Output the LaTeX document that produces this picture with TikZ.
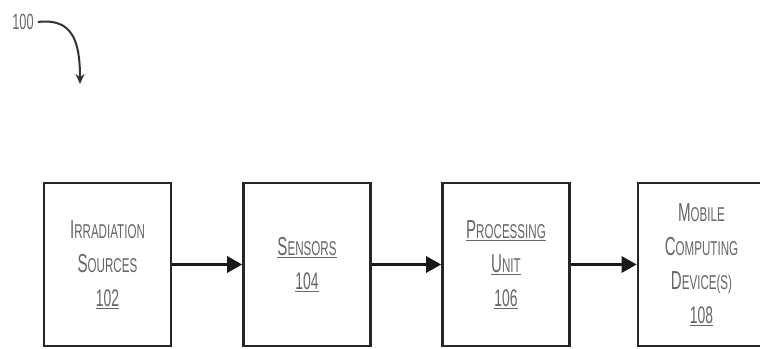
\documentclass[tikz,border=0pt]{standalone}
\usepackage{fontspec}
\setmainfont{Liberation Sans}
\usepackage{graphicx}
\usetikzlibrary{arrows.meta}
\newcommand\nar[1]{\scalebox{0.58}[1]{#1}}
\newcommand\SCw[2]{{\fontsize{26}{26}\selectfont #1}{\fontsize{20}{20}\selectfont #2}}
\newcommand\num[1]{{\fontsize{24}{24}\selectfont #1}}
\tikzset{
  blk/.style={draw=black!85, line width=2.6pt, minimum width=127pt, minimum height=163pt,
    inner sep=0pt, align=center, text=black!60, font=\fontsize{20}{34}\selectfont},
  flow/.style={line width=3pt, draw=black!90, -{Triangle[length=15pt,width=16pt]}},
  refarr/.style={line width=2pt, draw=black!80, -{Stealth[length=10pt,width=9pt]}}
}
\begin{document}
\begin{tikzpicture}[x=1pt,y=-1pt]
\useasboundingbox (0,0) rectangle (760,348);
\clip (0,0) rectangle (760,348);
\fill[white] (0,0) rectangle (760,348);
\node[text=black!60, inner sep=0pt] (lbl) at (23,22) {\nar{\fontsize{22}{22}\selectfont 100}};
\coordinate (tip) at (80,84);
\draw[refarr] (lbl.east) ++(4pt,0) .. controls (72,18) and (80,40) .. (tip);
\node[blk] (b1) at (107.5,264.5) {\nar{\SCw{I}{RRADIATION}}\\ \nar{\SCw{S}{OURCES}}\\ \nar{\num{\underline{102}}}};
\node[blk] (b2) at (307,264.5) {\nar{\underline{\SCw{S}{ENSORS}}}\\ \nar{\num{\underline{104}}}};
\node[blk] (b3) at (506,264.5) {\nar{\underline{\SCw{P}{ROCESSING}}}\\ \nar{\underline{\SCw{U}{NIT}}}\\ \nar{\num{\underline{106}}}};
\node[blk] (b4) at (701.5,264.5) {\nar{\SCw{M}{OBILE}}\\ \nar{\SCw{C}{OMPUTING}}\\ \nar{\SCw{D}{EVICE(S)}}\\ \nar{\num{\underline{108}}}};
\draw[flow] (b1) -- (b2);
\draw[flow] (b2) -- (b3);
\draw[flow] (b3) -- (b4);
\end{tikzpicture}
\end{document}
